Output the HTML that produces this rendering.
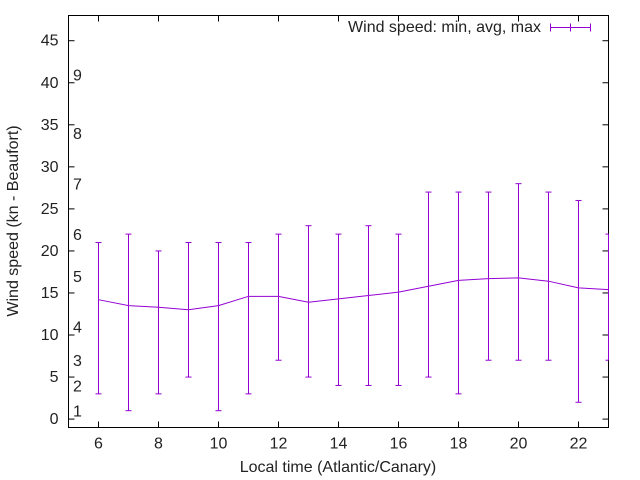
<!DOCTYPE html>
<html><head><meta charset="utf-8"><style>body{margin:0;background:#fff}svg{display:block;font-family:"Liberation Sans",sans-serif}</style></head>
<body>
<svg id="c" width="640" height="480"></svg>
<script>
const hours=[6,7,8,9,10,11,12,13,14,15,16,17,18,19,20,21,22,23];
const avgSpeed=[14.2,13.5,13.3,13.0,13.5,14.6,14.6,13.9,14.3,14.7,15.1,15.8,16.5,16.7,16.8,16.4,15.6,15.4];
const minSpeed=[3,1,3,5,1,3,7,5,4,4,4,5,3,7,7,7,2,7];
const maxSpeed=[21,22,20,21,21,21,22,23,22,23,22,27,27,27,28,27,26,22];
const yTicks=[0,5,10,15,20,25,30,35,40,45];
const xTicks=[6,8,10,12,14,16,18,20,22];
const beaufortLevels=[1,4,7,11,17,22,28,34,41];
const beaufortLabels=["1","2","3","4","5","6","7","8","9"];
const L=68.5,R=608.5,T=15.5,B=427.5,C='#9400d3';
const X=v=>L+(v-5)/(23-5)*(R-L);
const Y=v=>B-(v+1)/(48+1)*(B-T);
const s=document.getElementById('c');const NS='http://www.w3.org/2000/svg';
function el(t,a,txt){const e=document.createElementNS(NS,t);for(const k in a)e.setAttribute(k,a[k]);if(txt!=null)e.textContent=txt;s.appendChild(e);return e;}
let e;
yTicks.forEach(v=>{const y=Y(v);
e=el('line',{x1:L,x2:L+6,y1:y,y2:y,stroke:'#000'});
e=el('line',{x1:R,x2:R-6,y1:y,y2:y,stroke:'#000'});
e=el('text',{x:L-10,y:y+5,'text-anchor':'end','font-size':16,fill:'#222'},v);});
xTicks.forEach(v=>{const x=X(v);
e=el('line',{x1:x,x2:x,y1:B,y2:B-6,stroke:'#000'});
e=el('line',{x1:x,x2:x,y1:T,y2:T+6,stroke:'#000'});
e=el('text',{x:x,y:B+21,'text-anchor':'middle','font-size':16,fill:'#222'},v);});
beaufortLevels.forEach((v,i)=>{e=el('text',{x:73,y:Y(v)+6,'font-size':16,fill:'#222'},beaufortLabels[i]);});
e=el('rect',{x:L,y:T,width:R-L,height:B-T,fill:'none',stroke:'#000'});
hours.forEach((h,i)=>{const x=X(h);
e=el('line',{x1:x,x2:x,y1:Y(minSpeed[i]),y2:Y(maxSpeed[i]),stroke:C});
[minSpeed[i],maxSpeed[i]].forEach(v=>{e=el('line',{x1:x-3,x2:Math.min(x+3,R),y1:Y(v),y2:Y(v),stroke:C});});});
e=el('polyline',{points:hours.map((h,i)=>X(h)+','+Y(avgSpeed[i])).join(' '),fill:'none',stroke:C});
e=el('text',{x:541,y:32,'text-anchor':'end','font-size':16,fill:'#222'},'Wind speed: min, avg, max');
e=el('path',{d:'M550.5,27.5H590.5M570.5,23.5V31.5M550.5,23.5V31.5M590.5,23.5V31.5',stroke:C,fill:'none'});
e=el('text',{x:338,y:472,'text-anchor':'middle','font-size':16,fill:'#222'},'Local time (Atlantic/Canary)');
e=el('text',{x:18,y:221,'text-anchor':'middle','font-size':16,fill:'#222',transform:'rotate(-90 18 221)'},'Wind speed (kn - Beaufort)');
</script>
</body></html>
